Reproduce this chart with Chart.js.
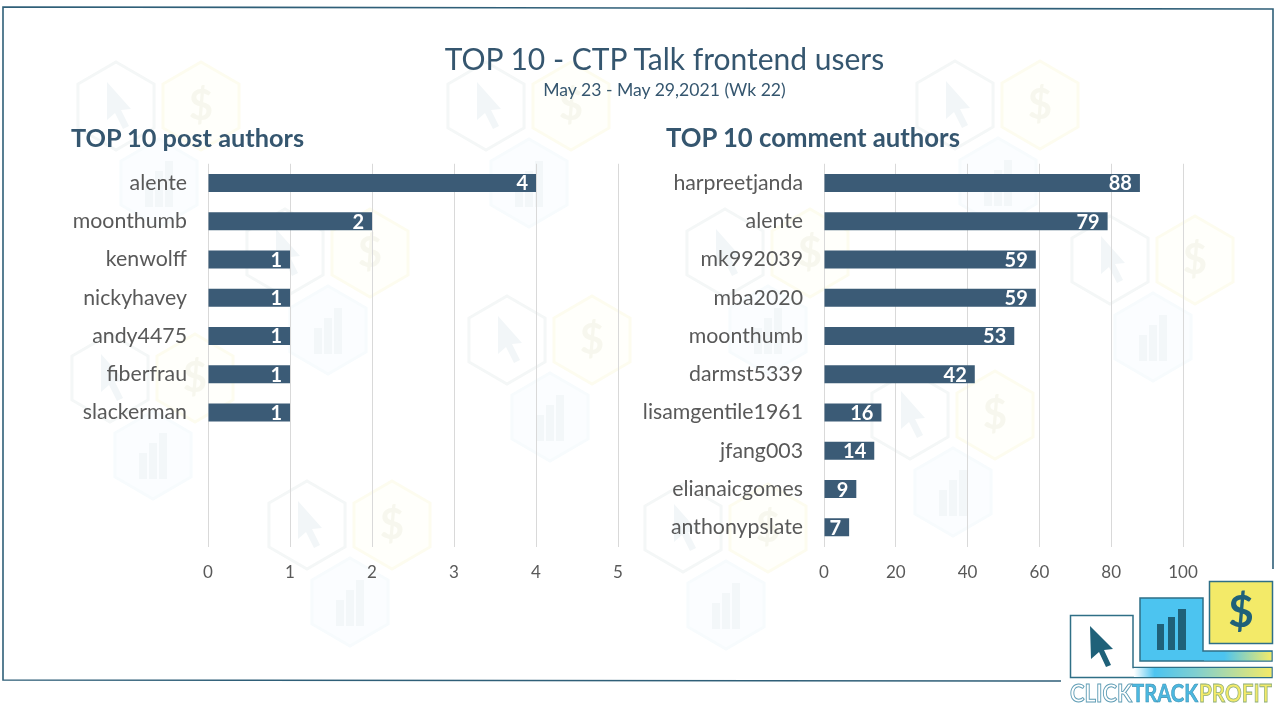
<!DOCTYPE html>
<html>
<head>
<meta charset="utf-8">
<title>TOP 10 - CTP Talk frontend users</title>
<script src="https://cdn.jsdelivr.net/npm/chart.js@4/dist/chart.umd.min.js"></script>
<style>
  html, body { margin: 0; padding: 0; background: #fff; }
  body { width: 1280px; height: 707px; position: relative; overflow: hidden; font-family: Lato, sans-serif; }
  .txt { position: absolute; color: #35566f; white-space: nowrap; line-height: 1; }
  #titulo { left: 0; width: 1329px; top: 43px; text-align: center; font-size: 30px; }
  #subtitulo { left: 0; width: 1329px; top: 81px; text-align: center; font-size: 17.6px; }
  .sub { top: 125px; font-size: 25.3px; font-weight: bold; }
  canvas { position: absolute; top: 130px; }
  svg { position: absolute; left: 0; top: 0; }
</style>
</head>
<body>

<svg id="fondo" width="1280" height="707">
  <defs>
    <g id="hex-cursor" fill="none">
      <path d="M0 -44 L38 -22 L38 22 L0 44 L-38 22 L-38 -22 Z" stroke="#e9eeee" stroke-width="3" fill="#fff"/>
      <path d="M-9 -24 L-9 14 L-1 7 L7 23 L13 20 L5 4 L15 3 Z" fill="#e4edf0"/>
    </g>
    <g id="hex-dollar">
      <path d="M0 -44 L38 -22 L38 22 L0 44 L-38 22 L-38 -22 Z" stroke="#fbf9df" stroke-width="3" fill="#fffff6"/>
      <text x="0" y="14" text-anchor="middle" font-family="Lato" font-weight="bold" font-size="42" fill="#efefdc">$</text>
    </g>
    <g id="hex-bars">
      <path d="M0 -44 L38 -22 L38 22 L0 44 L-38 22 L-38 -22 Z" stroke="#eef7fb" stroke-width="3" fill="#f6fbfe"/>
      <path d="M-14 -2 H-6 V24 H-14 Z M-4 -12 H4 V24 H-4 Z M6 -22 H14 V24 H6 Z" fill="#e6eef2"/>
    </g>
    <g id="trio">
      <use href="#hex-cursor"/>
      <use href="#hex-dollar" x="85"/>
      <use href="#hex-bars" x="43" y="77"/>
    </g>
    <linearGradient id="gradChica" x1="0" x2="1" y1="0" y2="0">
      <stop offset="0" stop-color="#4cc4f0"/>
      <stop offset="0.3" stop-color="#4cc4f0"/>
      <stop offset="1" stop-color="#f3ea68"/>
    </linearGradient>
    <linearGradient id="gradLarga" x1="0" x2="1" y1="0" y2="0">
      <stop offset="0" stop-color="#fff"/>
      <stop offset="0.15" stop-color="#4cc4f0"/>
      <stop offset="0.45" stop-color="#7fcfd0"/>
      <stop offset="1" stop-color="#f3ea68"/>
    </linearGradient>
  </defs>

  <!-- marca de agua -->
  <g opacity="0.5">
    <use href="#trio" x="116" y="106"/>
    <use href="#trio" x="486" y="106"/>
    <use href="#trio" x="955" y="105"/>
    <use href="#trio" x="285" y="253"/>
    <use href="#trio" x="725" y="253"/>
    <use href="#trio" x="1110" y="260"/>
    <use href="#trio" x="507" y="340"/>
    <use href="#trio" x="110" y="378"/>
    <use href="#trio" x="910" y="415"/>
    <use href="#trio" x="307" y="525"/>
    <use href="#trio" x="683" y="528"/>
  </g>

  <!-- marco -->
  <path d="M1273 569 V9 L3 7 V680 L1061 681" fill="none" stroke="#2f5f78" stroke-width="1.6"/>

  <!-- logo -->
  <rect x="1064" y="575" width="216" height="132" fill="#fff"/>
  <path d="M1070.5 615.5 H1133 V667.5 H1272 V677.5 H1070.5 Z" fill="#fff" stroke="#2f6f86" stroke-width="1.5"/>
  <rect x="1134" y="668" width="137.5" height="9" fill="url(#gradLarga)"/>
  <path d="M1140 598 H1203 V651 H1272 V661 H1140 Z" fill="#4cc4f0" stroke="#2f6f86" stroke-width="1.5"/>
  <rect x="1204" y="652" width="67.5" height="8.5" fill="url(#gradChica)"/>
  <rect x="1209.5" y="581.5" width="63" height="62" fill="#f3ea68" stroke="#2f6f86" stroke-width="1.5"/>
  <path d="M1090 626 L1091 659 L1099 652 L1106 667 L1111 665 L1104 650 L1113 649 Z" fill="#1f6179"/>
  <path d="M1157 624 H1164 V650 H1157 Z M1168 617 H1175 V650 H1168 Z M1178 609 H1186 V650 H1178 Z" fill="#1f6179"/>
  <text x="1241" y="627" text-anchor="middle" font-family="Lato" font-weight="bold" font-size="44" fill="#1f6179">$</text>
  <text x="1070" y="702" textLength="62" lengthAdjust="spacingAndGlyphs" font-family="Lato" font-weight="bold" font-size="25" fill="#fff" stroke="#5f9db5" stroke-width="1">CLICK</text>
  <text x="1132" y="702" textLength="66" lengthAdjust="spacingAndGlyphs" font-family="Lato" font-weight="bold" font-size="25" fill="#4cb8e0" stroke="#3a8fb0" stroke-width="0.6">TRACK</text>
  <text x="1199" y="702" textLength="73" lengthAdjust="spacingAndGlyphs" font-family="Lato" font-weight="bold" font-size="25" fill="#f3ea68" stroke="#8fae7a" stroke-width="0.8">PROFIT</text>
</svg>

<div class="txt" id="titulo">TOP 10 - CTP Talk frontend users</div>
<div class="txt" id="subtitulo">May 23 - May 29,2021 (Wk 22)</div>
<div class="txt sub" style="left:71px">TOP 10 post authors</div>
<div class="txt sub" style="left:666px;font-size:25.7px">TOP 10 comment authors</div>

<canvas id="grafico-post" width="580" height="460" style="left:60px"></canvas>
<canvas id="grafico-comment" width="580" height="460" style="left:640px"></canvas>

<script>
const postAuthors = ["alente", "moonthumb", "kenwolff", "nickyhavey", "andy4475", "fiberfrau", "slackerman", "", "", ""];
const postValues = [4, 2, 1, 1, 1, 1, 1, null, null, null];

const commentAuthors = ["harpreetjanda", "alente", "mk992039", "mba2020", "moonthumb", "darmst5339", "lisamgentile1961", "jfang003", "elianaicgomes", "anthonypslate"];
const commentValues = [88, 79, 59, 59, 53, 42, 16, 14, 9, 7];

const azul = "#3b5b76";

// etiquetas blancas al final de cada barra
const etiquetas = {
    id: "etiquetas",
    afterDatasetsDraw(chart) {
        const ctx = chart.ctx;
        const puntos = chart.getDatasetMeta(0).data;
        ctx.save();
        ctx.fillStyle = "#fff";
        ctx.font = "bold 20px Lato";
        ctx.textAlign = "right";
        ctx.textBaseline = "middle";
        puntos.forEach((barra, i) => {
            const valor = chart.data.datasets[0].data[i];
            if (valor === null) return;
            ctx.fillText(valor, barra.x - 8, barra.y + 1);
        });
        ctx.restore();
    }
};

function crearGrafico(id, labels, values, maximo, paso, anchoY, margenDer) {
    return new Chart(document.getElementById(id), {
        type: "bar",
        data: {
            labels: labels,
            datasets: [{
                data: values,
                backgroundColor: azul,
                barPercentage: 0.47,
                categoryPercentage: 1
            }]
        },
        options: {
            indexAxis: "y",
            responsive: false,
            animation: false,
            layout: { padding: { top: 0, right: margenDer, bottom: 0, left: 0 } },
            plugins: { legend: { display: false }, tooltip: { enabled: false } },
            scales: {
                x: {
                    min: 0,
                    max: maximo,
                    afterFit: (scale) => { scale.height = 43.5; },
                    ticks: {
                        stepSize: paso,
                        padding: 16,
                        color: "#595959",
                        font: { family: "Lato", size: 17 }
                    },
                    grid: { color: "#d9d9d9", drawTicks: false },
                    border: { display: false }
                },
                y: {
                    afterFit: (scale) => { scale.width = anchoY; },
                    ticks: {
                        autoSkip: false,
                        padding: 21,
                        color: "#595959",
                        font: { family: "Lato", size: 21.3 }
                    },
                    grid: { display: false, drawTicks: false },
                    border: { display: false }
                }
            }
        },
        plugins: [etiquetas]
    });
}

crearGrafico("grafico-post", postAuthors, postValues, 5, 1, 148, 22);
crearGrafico("grafico-comment", commentAuthors, commentValues, 100, 20, 184, 37);
</script>
</body>
</html>
